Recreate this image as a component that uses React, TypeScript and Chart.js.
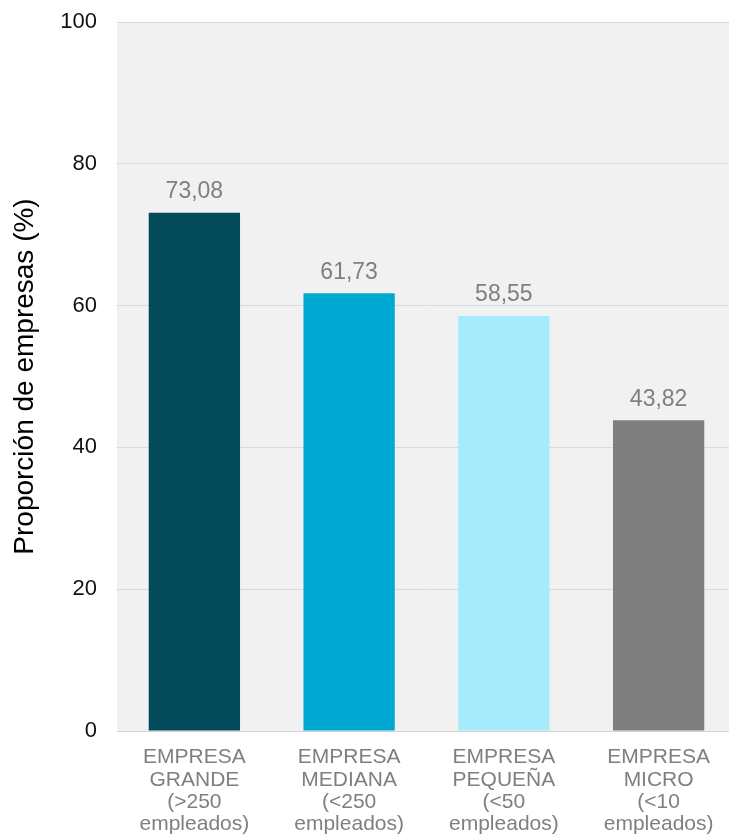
import React, { useEffect, useRef } from "react";
import { Chart, registerables } from "chart.js";

Chart.register(...registerables);

const categories: string[][] = [
  ["EMPRESA", "GRANDE", "(>250", "empleados)"],
  ["EMPRESA", "MEDIANA", "(<250", "empleados)"],
  ["EMPRESA", "PEQUEÑA", "(<50", "empleados)"],
  ["EMPRESA", "MICRO", "(<10", "empleados)"],
];
const values: number[] = [73.08, 61.73, 58.55, 43.82];
const barColors: string[] = ["#024b5a", "#00a9d2", "#a6ebfc", "#7f7f7f"];
const yTicks: number[] = [0, 20, 40, 60, 80, 100];
const yTitle = "Proporción de empresas (%)";

const FONT = "'Liberation Sans', Arial, sans-serif";

const bgPlugin = {
  id: "areaBg",
  beforeDraw(chart: any) {
    const { ctx, chartArea } = chart;
    if (!chartArea) return;
    ctx.save();
    ctx.fillStyle = "#f1f1f1";
    ctx.fillRect(chartArea.left, chartArea.top, chartArea.right - chartArea.left, chartArea.bottom - chartArea.top);
    ctx.restore();
  },
};

const labelPlugin = {
  id: "valueLabels",
  afterDatasetsDraw(chart: any) {
    const { ctx } = chart;
    const meta = chart.getDatasetMeta(0);
    ctx.save();
    ctx.font = `23px ${FONT}`;
    ctx.fillStyle = "#7f7f7f";
    ctx.textAlign = "center";
    ctx.textBaseline = "alphabetic";
    meta.data.forEach((el: any, i: number) => {
      const v = chart.data.datasets[0].data[i] as number;
      ctx.fillText(v.toFixed(2).replace(".", ","), el.x, el.y - 14.5);
    });
    ctx.restore();
  },
};

export default function App() {
  const ref = useRef<HTMLCanvasElement | null>(null);
  useEffect(() => {
    if (!ref.current) return;
    const chart = new Chart(ref.current, {
      type: "bar",
      data: {
        labels: categories,
        datasets: [
          {
            data: values,
            backgroundColor: barColors,
            barPercentage: 0.59,
            categoryPercentage: 1,
          },
        ],
      },
      options: {
        responsive: false,
        animation: false,
        devicePixelRatio: 1,
        layout: { padding: { left: 0, right: 0, top: 22, bottom: 0 } },
        plugins: {
          legend: { display: false },
          tooltip: { enabled: false },
        },
        scales: {
          x: {
            grid: { display: false, drawTicks: false },
            border: { display: true, color: "#d4d4d4", width: 1 },
            ticks: {
              color: "#7f7f7f",
              font: { family: FONT, size: 21, lineHeight: 1.07 },
              padding: 15,
              maxRotation: 0,
              autoSkip: false,
            },
            afterFit(scale: any) {
              scale.height = 103;
              scale.paddingLeft = 0;
              scale.paddingRight = 0;
            },
          },
          y: {
            min: 0,
            max: 100,
            afterBuildTicks(scale: any) {
              scale.ticks = yTicks.map((v) => ({ value: v }));
            },
            grid: { color: "#d9d9d9", lineWidth: 1, drawTicks: false },
            border: { display: false },
            ticks: {
              color: "#111111",
              font: { family: FONT, size: 22 },
              padding: 20,
            },
            title: {
              display: true,
              text: yTitle,
              color: "#000000",
              font: { family: FONT, size: 28, lineHeight: 1.2 },
              padding: { top: 8, bottom: 0 },
            },
            afterFit(scale: any) {
              scale.width = 117;
              scale.paddingTop = 0;
              scale.paddingBottom = 0;
            },
          },
        },
      },
      plugins: [bgPlugin, labelPlugin],
    });
    return () => chart.destroy();
  }, []);
  return (
    <div style={{ position: "fixed", left: 0, top: 0, width: 729, height: 834, overflow: "hidden", background: "#ffffff" }}>
      <canvas ref={ref} width={736} height={834} style={{ display: "block", width: 736, height: 834 }} />
    </div>
  );
}
